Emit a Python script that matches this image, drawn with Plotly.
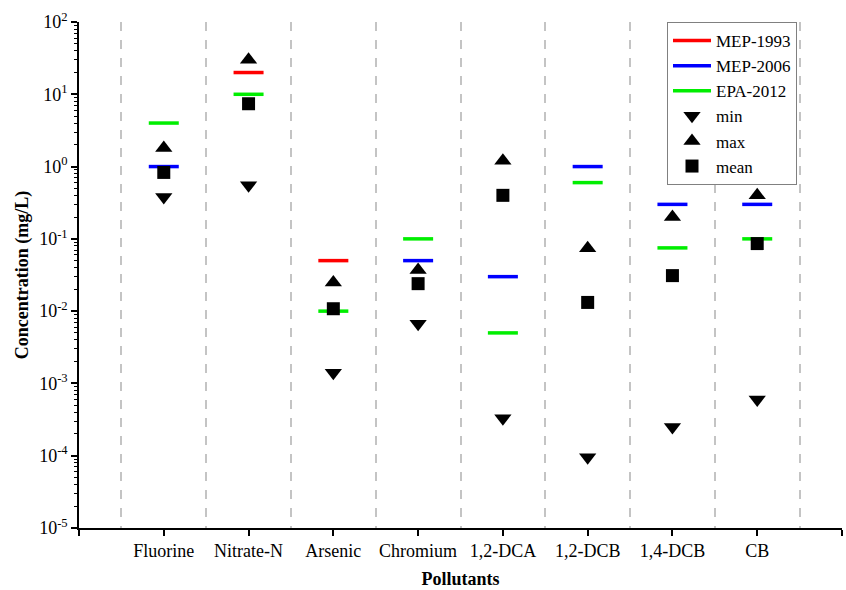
import plotly.graph_objects as go

categories = ["Fluorine", "Nitrate-N", "Arsenic", "Chromium", "1,2-DCA", "1,2-DCB", "1,4-DCB", "CB"]
mep_1993 = [None, 20, 0.05, None, None, None, None, None]
mep_2006 = [1.0, None, None, 0.05, 0.03, 1.0, 0.3, 0.3]
epa_2012 = [4.0, 10, 0.01, 0.1, 0.005, 0.6, 0.075, 0.1]
val_min = [0.38, 0.55, 0.0014, 0.0067, 0.00033, 0.000095, 0.00025, 0.0006]
val_max = [1.8, 30, 0.025, 0.037, 1.2, 0.074, 0.2, 0.4]
val_mean = [0.83, 7.4, 0.0108, 0.024, 0.40, 0.0132, 0.031, 0.086]
y_tickvals = [1e-5, 1e-4, 1e-3, 1e-2, 1e-1, 1e0, 1e1, 1e2]
y_ticktext = ["10<sup>-5</sup>", "10<sup>-4</sup>", "10<sup>-3</sup>", "10<sup>-2</sup>",
              "10<sup>-1</sup>", "10<sup>0</sup>", "10<sup>1</sup>", "10<sup>2</sup>"]

FONT = "Liberation Serif, Times New Roman, serif"
HALF = 0.177
idx = list(range(len(categories)))


def segments(vals):
    xs, ys = [], []
    for i, v in zip(idx, vals):
        if v is None:
            continue
        xs += [i - HALF, i + HALF, None]
        ys += [v, v, None]
    return xs, ys


fig = go.Figure()
for name, vals, color in [("MEP-1993", mep_1993, "#ff0000"),
                          ("MEP-2006", mep_2006, "#0000ff"),
                          ("EPA-2012", epa_2012, "#00ee00")]:
    xs, ys = segments(vals)
    fig.add_trace(go.Scatter(x=xs, y=ys, mode="lines", name=name,
                             line=dict(color=color, width=3.5)))

for name, vals, sym, size in [("min", val_min, "triangle-down", 15),
                              ("max", val_max, "triangle-up", 15),
                              ("mean", val_mean, "square", 13)]:
    fig.add_trace(go.Scatter(x=idx, y=vals, mode="markers", name=name,
                             marker=dict(symbol=sym, size=size, color="black",
                                         line=dict(width=0))))

x_ticks = [-1] + idx + [len(categories)]
x_text = [""] + categories + [""]
grid_vals = [i - 0.5 for i in range(len(categories) + 1)]

fig.update_layout(
    width=846, height=590,
    margin=dict(l=79, r=4, t=22, b=62),
    paper_bgcolor="white", plot_bgcolor="white",
    font=dict(family=FONT, size=18, color="black"),
    showlegend=True,
    legend=dict(x=(667 - 79) / 763, y=1.0, xanchor="left", yanchor="top",
                bgcolor="white", bordercolor="#808080", borderwidth=1,
                font=dict(family=FONT, size=17, color="black"),
                itemwidth=38, tracegroupgap=0),
    xaxis=dict(range=[-1, len(categories)], tickmode="array", tickvals=x_ticks,
               ticktext=x_text, ticks="outside", ticklen=6, tickwidth=1.5,
               tickcolor="black", showline=True, linecolor="black", linewidth=1.5,
               showgrid=False, zeroline=False, automargin=False,
               tickfont=dict(family=FONT, size=18),
               minor=dict(tickmode="array", tickvals=grid_vals, showgrid=True,
                          gridcolor="#c4c4c4", gridwidth=1.5, griddash="dash",
                          ticks=""),
               title=dict(text="<b>Pollutants</b>", font=dict(family=FONT, size=18),
                          standoff=12)),
    yaxis=dict(type="log", range=[-5, 2], tickmode="array", tickvals=y_tickvals,
               ticktext=y_ticktext, ticks="outside", ticklen=6, tickwidth=1.5,
               tickcolor="black", showline=True, linecolor="black", linewidth=1.5,
               showgrid=False, zeroline=False, automargin=False,
               tickfont=dict(family=FONT, size=18),
               minor=dict(ticks="outside", ticklen=3, tickwidth=1, tickcolor="black",
                          dtick="D1", showgrid=False),
               title=dict(text="<b>Concentration (mg/L)</b>",
                          font=dict(family=FONT, size=18), standoff=6)),
)

fig.write_html("out.html", config={"displayModeBar": False},
               post_script="document.body.style.margin='0';document.body.style.overflow='hidden';")
